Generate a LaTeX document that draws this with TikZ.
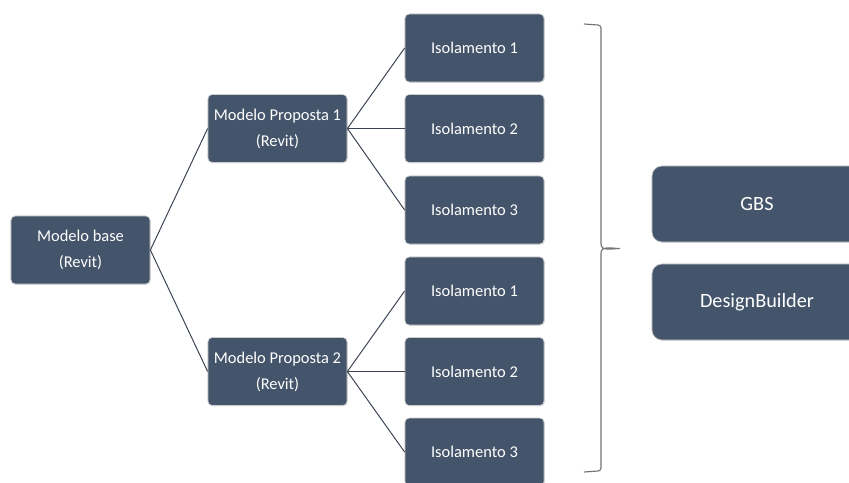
\documentclass[tikz,border=0pt]{standalone}
\usepackage{fontspec}
\setmainfont{Carlito}
\usetikzlibrary{shapes, positioning, calc, shadows}

\definecolor{slate}{HTML}{44546A}
\definecolor{linegray}{HTML}{3A4352}

\begin{document}
\begin{tikzpicture}[
        x=0.025cm, y=-0.025cm,
        box/.style={rectangle, draw=black!20, line width=0.5pt, fill=slate, text=white, minimum width=3.475cm, minimum height=1.7cm, align=center, font=\fontsize{11.7}{18.5}\selectfont, rounded corners=3pt, drop shadow={opacity=0.2, shadow xshift=0.6pt, shadow yshift=-0.6pt}},
        tool/.style={box, minimum width=5.25cm, minimum height=1.9cm, font=\fontsize{14.4}{17}\selectfont, rounded corners=7pt},
        link/.style={draw=linegray, line width=0.7pt}
    ]
        \useasboundingbox (0,0) rectangle (849,482);

        \node[box] (base) at (80.5,250) {Modelo base\\(Revit)};
        \node[box] (prop1) at (277.5,128.5) {Modelo Proposta 1\\(Revit)};
        \node[box] (prop2) at (277.5,371.5) {Modelo Proposta 2\\(Revit)};

        \node[box] (iso11) at (474.5,48) {Isolamento 1};
        \node[box] (iso12) at (474.5,128.5) {Isolamento 2};
        \node[box] (iso13) at (474.5,210) {Isolamento 3};
        \node[box] (iso21) at (474.5,291) {Isolamento 1};
        \node[box] (iso22) at (474.5,371.5) {Isolamento 2};
        \node[box] (iso23) at (474.5,452) {Isolamento 3};

        \node[tool] (gbs) at (757,204) {GBS};
        \node[tool] (db) at (757,302) {DesignBuilder};

        \draw[link] (base.east) -- (prop1.west);
        \draw[link] (base.east) -- (prop2.west);
        \draw[link] (prop1.east) -- (iso11.west);
        \draw[link] (prop1.east) -- (iso12.west);
        \draw[link] (prop1.east) -- (iso13.west);
        \draw[link] (prop2.east) -- (iso21.west);
        \draw[link] (prop2.east) -- (iso22.west);
        \draw[link] (prop2.east) -- (iso23.west);

        % brace round the six models
        \draw[link, line width=0.8pt, draw=black!55] (584,24) -- (598,25) to[out=0,in=90] (601,28) -- (601,244)
            to[out=-90,in=180] (620,248.5) to[out=180,in=90] (601,253) -- (601,468)
            to[out=-90,in=0] (598,471) -- (584,472);
    \end{tikzpicture}
\end{document}
